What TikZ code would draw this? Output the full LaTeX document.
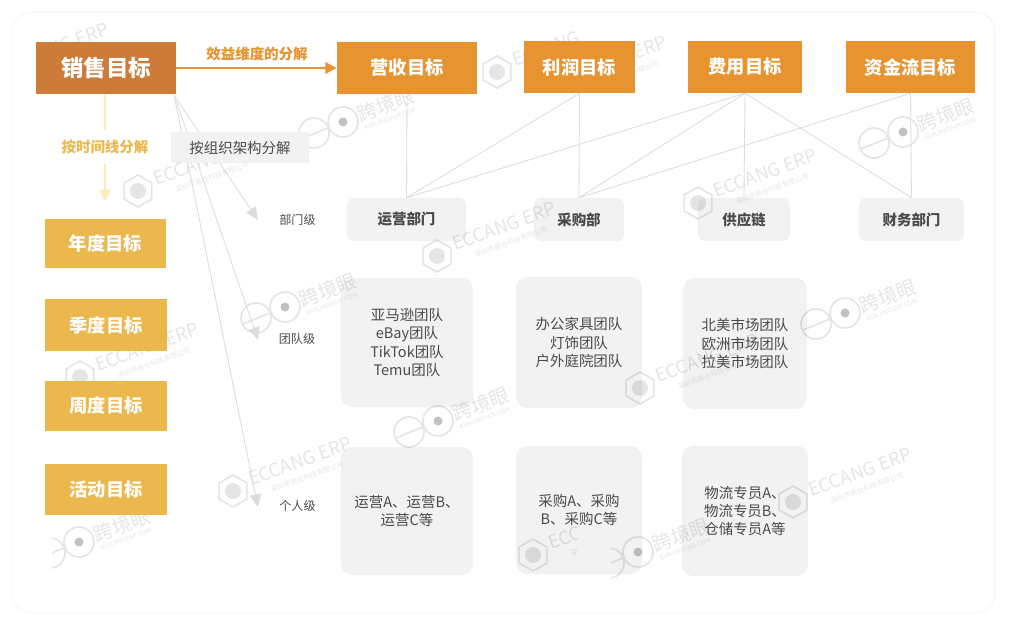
\documentclass[tikz,border=0pt]{standalone}
\usepackage{fontspec}
\setmainfont{Noto Sans CJK SC}
\usetikzlibrary{arrows.meta}
\definecolor{maincol}{HTML}{CD7B38}
\definecolor{profit}{HTML}{E69330}
\definecolor{timecol}{HTML}{EBB84E}
\definecolor{timearrow}{HTML}{FFEBB8}
\definecolor{greybox}{HTML}{F2F2F2}
\definecolor{linecol}{HTML}{DCDCDC}
\definecolor{inkcol}{HTML}{4A4A4A}
\tikzset{
  orangebox/.style={fill=profit,text=white,font=\fontsize{13}{15}\selectfont\bfseries,inner sep=0pt},
  yellowbox/.style={fill=timecol,text=white,font=\fontsize{13}{15}\selectfont\bfseries,inner sep=0pt},
  deptbox/.style={fill=greybox,rounded corners=5pt,text=inkcol,font=\fontsize{10.3}{12}\selectfont\bfseries,inner sep=0pt},
  teambox/.style={fill=greybox,rounded corners=8pt,text=inkcol,font=\fontsize{10.3}{13}\selectfont,align=center,inner sep=0pt},
  levelnode/.style={text=inkcol,font=\fontsize{8.6}{10}\selectfont},
  link/.style={draw=linecol,line width=0.6pt},
  levelarrow/.style={draw=linecol,line width=0.6pt,-{Triangle[length=9pt,width=8pt,fill=linecol]}},
  ecmark/.pic={
    \draw[line width=1.2pt] (30:16) -- (90:16) -- (150:16) -- (210:16) -- (270:16) -- (330:16) -- cycle;
    \fill (0,0) circle (8);
    \node[rotate=20,font=\fontsize{13}{15}\selectfont] (ectext) at (67,-30) {ECCANG ERP};
    \node[rotate=20,font=\fontsize{5}{6}\selectfont] (ecsub) at (74,-14) {深圳市易仓科技有限公司};
  },
  eyemark/.pic={
    \draw[line width=1.2pt] (0,0) circle (15) (-29,11) circle (15) (-42,17) -- (-15,6);
    \fill[black!40,opacity=0.6] (0,0) circle (4.5);
    \node[rotate=20,font=\fontsize{14}{16}\selectfont] (eyetext) at (43,-17) {跨境眼};
    \node[rotate=20,font=\fontsize{4.5}{5}\selectfont] (eyesub) at (47,-3) {KUAJINGYAN.COM};
  }
}
\begin{document}
\begin{tikzpicture}[x=0.025cm,y=-0.025cm]
\useasboundingbox (0,0) rectangle (1014,630);
\fill[white] (0,0) rectangle (1014,630);
\draw[draw=greybox,rounded corners=14pt] (12,12) rectangle (995,613);

% grey boxes
\node[deptbox,minimum width=2.975cm,minimum height=1.075cm] (opsdept) at (406.5,219.5) {运营部门};
\node[deptbox,minimum width=2.25cm,minimum height=1.075cm] (buydept) at (579,219.5) {采购部};
\node[deptbox,minimum width=2.3cm,minimum height=1.075cm] (supdept) at (744,219.5) {供应链};
\node[deptbox,minimum width=2.625cm,minimum height=1.075cm] (findept) at (911.5,219.5) {财务部门};

\node[teambox,minimum width=3.3cm,minimum height=3.225cm] (opsteam) at (407,342.5) {亚马逊团队\\eBay团队\\TikTok团队\\Temu团队};
\node[teambox,minimum width=3.15cm,minimum height=3.275cm] (buyteam) at (579,342.5) {办公家具团队\\灯饰团队\\户外庭院团队};
\node[teambox,minimum width=3.1cm,minimum height=3.275cm] (supteam) at (745,343.5) {北美市场团队\\欧洲市场团队\\拉美市场团队};

\node[teambox,minimum width=3.3cm,minimum height=3.2cm] (opsstaff) at (407,511) {运营A、运营B、\\运营C等};
\node[teambox,minimum width=3.15cm,minimum height=3.2cm] (buystaff) at (579,510) {采购A、采购\\B、采购C等};
\node[teambox,minimum width=3.15cm,minimum height=3.25cm] (supstaff) at (745,511) {物流专员A、\\物流专员B、\\仓储专员A等};

% watermarks, the tiles are cut off at left and right
\begin{scope}[opacity=0.1,black,text=black]
\foreach \wx/\wy/\wl/\wr in {138/191/0/1014,497/72/0/578,548/90/637/1014,-10/77/50/1014,698/203/0/1014,437/256/0/1014,233/491/0/1014,793/502/0/1014,80/377/0/1014,533/555/0/577,640/388/0/1014}{
  \begin{scope}
    \clip (\wl,0) rectangle (\wr,630);
    \pic at (\wx,\wy) {ecmark};
  \end{scope}
}
\foreach \wx/\wy/\wl in {343/122/0,903/132/0,285/307/0,845/313/0,438/421/0,79/542/52,638/552/611}{
  \begin{scope}
    \clip (\wl,0) rectangle (1014,630);
    \pic at (\wx,\wy) {eyemark};
  \end{scope}
}
\end{scope}

% top row
\node[fill=maincol,text=white,font=\fontsize{16}{18}\selectfont\bfseries,inner sep=0pt,minimum width=3.5cm,minimum height=1.3cm] (salesgoal) at (106,68) {销售目标};
\node[orangebox,minimum width=3.5cm,minimum height=1.3cm] (revgoal) at (407,68) {营收目标};
\node[orangebox,minimum width=2.775cm,minimum height=1.3cm] (profitgoal) at (579.5,67) {利润目标};
\node[orangebox,minimum width=2.85cm,minimum height=1.3cm] (costgoal) at (745,67) {费用目标};
\node[orangebox,minimum width=3.225cm,minimum height=1.3cm] (cashgoal) at (910.5,67) {资金流目标};

% left column
\node[yellowbox,minimum width=3.025cm,minimum height=1.225cm] (yeargoal) at (105.5,243.5) {年度目标};
\node[yellowbox,minimum width=3.05cm,minimum height=1.3cm] (quartergoal) at (106,325) {季度目标};
\node[yellowbox,minimum width=3.05cm,minimum height=1.25cm] (weekgoal) at (106,406) {周度目标};
\node[yellowbox,minimum width=3.05cm,minimum height=1.275cm] (eventgoal) at (106,489.5) {活动目标};

% levels
\node[levelnode] (deptlevel) at (297.5,220) {部门级};
\node[levelnode] (teamlevel) at (297,339) {团队级};
\node[levelnode] (stafflevel) at (297.5,506) {个人级};
\coordinate (salesfoot) at (174,95);
\coordinate (deptend) at (258,220);
\coordinate (teamend) at (258,340);
\coordinate (staffend) at (258,507);
\coordinate (yeartip) at (105,201);

\draw[levelarrow] (salesfoot) -- (deptend);
\draw[levelarrow] (salesfoot) -- (teamend);
\draw[levelarrow] (salesfoot) -- (staffend);

% links
\draw[link] (revgoal.south) -- (opsdept.north);
\draw[link] (profitgoal.south) -- (opsdept.north);
\draw[link] (profitgoal.south) -- (buydept.north);
\draw[link] (costgoal.south) -- (opsdept.north);
\draw[link] (costgoal.south) -- (buydept.north);
\draw[link] (costgoal.south) -- (supdept.north);
\draw[link] (costgoal.south) -- (findept.north);
\draw[link] (cashgoal.south) -- (buydept.north);
\draw[link] (cashgoal.south) -- (findept.north);

% arrows
\draw[draw=profit,line width=1.2pt,-{Triangle[length=8pt,width=8pt]}] (salesgoal.east) -- (revgoal.west);
\draw[draw=timearrow,line width=1.5pt,-{Triangle[length=8pt,width=8pt]}] (salesgoal.south) ++(-1,0) -- (yeartip);

% labels
\node[text=profit,font=\fontsize{10.3}{12}\selectfont\bfseries,inner sep=0pt] (benefitlabel) at (257,54) {效益维度的分解};
\node[fill=white,text=timecol,font=\fontsize{10.3}{12}\selectfont\bfseries,inner xsep=2pt,inner ysep=7pt] (timelabel) at (105,147) {按时间线分解};
\node[fill=greybox,text=inkcol,font=\fontsize{10.3}{12}\selectfont,inner sep=0pt,minimum width=3.45cm,minimum height=0.775cm] (orglabel) at (240,147.5) {按组织架构分解};
\end{tikzpicture}
\end{document}
